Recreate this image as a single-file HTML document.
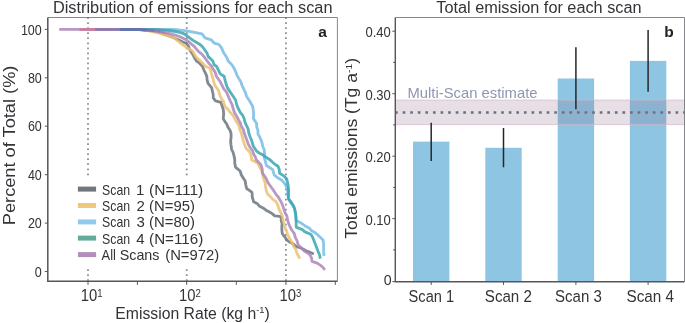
<!DOCTYPE html>
<html><head><meta charset="utf-8"><title>Emissions per scan</title>
<style>html,body{margin:0;padding:0;background:#fff}body{width:685px;height:323px;overflow:hidden}</style></head>
<body>
<svg width="685" height="323" viewBox="0 0 685 323" style="display:block;will-change:transform;font-family:'Liberation Sans',sans-serif">
<rect width="685" height="323" fill="#fff"/>
<line x1="88" y1="17.2" x2="88" y2="281.25" stroke="#84919d" stroke-width="1.75" stroke-dasharray="1.75 3.29"/>
<line x1="186.7" y1="17.2" x2="186.7" y2="281.25" stroke="#84919d" stroke-width="1.75" stroke-dasharray="1.75 3.29"/>
<line x1="285.9" y1="17.2" x2="285.9" y2="281.25" stroke="#84919d" stroke-width="1.75" stroke-dasharray="1.75 3.29"/>
<polyline points="95.0,29.4 140.0,29.6 150.0,30.6 160.0,32.4 172.5,37.2 178.7,40.1 183.0,42.1 186.3,43.3 188.0,45.5 188.7,46.5 189.5,49.4 192.0,53.2 194.2,57.2 196.3,60.8 199.6,63.2 202.4,66.2 203.8,69.8 205.5,73.2 206.8,76.4 207.1,79.9 207.9,83.2 211.7,87.9 212.4,91.2 213.2,94.5 213.3,97.9 215.5,100.8 220.9,102.3 222.0,105.8 223.2,109.3 223.7,113.9 223.2,118.6 224.8,121.4 226.7,124.0 227.9,127.1 229.9,130.0 231.0,133.3 231.1,137.2 230.6,141.0 231.0,144.9 231.6,149.3 233.1,152.3 233.9,155.5 234.7,159.3 234.8,163.3 235.5,167.1 240.1,171.0 241.2,174.7 243.2,177.9 245.1,180.8 245.8,184.7 246.6,188.5 249.4,190.4 252.0,192.4 252.3,197.1 253.6,201.7 257.0,203.4 259.6,206.3 263.0,207.9 266.0,210.2 269.1,211.8 272.1,213.6 274.8,215.9 278.1,216.2 281.3,216.9 281.2,220.3 282.1,223.6 281.8,226.9 281.9,230.3 282.3,233.6 284.7,236.8 286.9,240.1 290.0,242.3 293.4,244.0 296.2,246.6 299.9,247.6 303.4,249.3 306.7,251.2 310.3,252.4 313.8,254.0" fill="none" stroke="#6c767e" stroke-opacity="0.85" stroke-width="2.8" stroke-linejoin="round" stroke-linecap="butt"/>
<polyline points="79.6,29.4 138.0,29.6 145.0,30.2 150.0,31.2 158.0,32.8 166.2,35.3 174.2,38.0 179.8,42.5 184.7,46.1 188.0,48.6 192.6,51.0 195.7,56.4 200.1,60.8 202.9,63.4 205.5,66.2 210.2,68.5 211.3,72.8 212.5,77.0 213.7,81.2 214.8,85.5 216.9,88.1 218.7,91.0 219.9,95.4 221.8,99.5 223.2,100.8 224.1,104.0 225.5,107.0 228.0,109.4 230.1,112.2 232.5,114.7 234.5,118.1 236.3,121.6 238.7,124.8 239.6,128.7 241.0,132.5 242.3,136.6 243.2,140.8 244.8,145.4 246.4,148.8 249.3,151.4 251.0,154.7 251.7,160.1 254.8,161.6 257.9,163.2 259.2,166.4 261.0,169.4 262.3,172.7 262.9,176.1 263.8,179.5 265.2,183.0 265.5,186.7 266.3,190.4 267.5,193.9 270.3,196.6 272.9,199.4 276.0,201.7 277.8,205.2 278.9,209.0 280.7,212.5 282.3,215.9 283.1,220.0 284.1,224.0 285.1,228.0 286.6,231.1 287.7,234.5 289.1,237.7 291.0,240.6 292.5,243.8 293.8,246.8 295.9,249.5 296.7,252.8 298.3,255.7 299.9,258.6" fill="none" stroke="#ecc172" stroke-opacity="0.85" stroke-width="2.8" stroke-linejoin="round" stroke-linecap="butt"/>
<polyline points="119.5,29.4 150.0,29.4 165.0,29.3 174.2,29.5 186.3,30.8 189.5,31.3 202.0,33.9 205.0,37.8 211.2,39.8 214.3,43.2 219.0,44.5 222.0,48.6 223.1,51.7 224.8,54.5 226.7,57.2 228.0,60.8 230.9,63.7 233.4,67.0 235.3,70.8 236.8,74.8 238.8,78.6 240.8,81.7 242.0,85.2 243.5,88.6 245.4,92.4 246.6,96.4 249.5,100.8 252.6,106.2 253.3,110.3 253.6,114.4 253.4,118.6 256.5,123.2 256.7,126.9 257.9,130.4 258.0,134.1 259.7,136.9 261.0,140.0 262.1,143.1 262.7,146.3 264.1,149.3 264.6,153.2 264.1,157.0 265.3,161.2 266.4,165.5 269.5,167.5 272.6,169.4 274.2,174.8 277.8,177.8 281.9,180.2 285.5,184.7 287.6,189.3 287.7,194.0 288.4,198.6 290.1,202.1 292.7,205.1 294.6,208.6 295.2,212.6 295.8,216.5 296.1,220.5 301.6,223.3 305.2,226.0 309.2,228.0 311.6,230.8 315.0,232.6 317.8,235.0 320.5,237.5 323.1,240.1 323.6,244.0 323.6,247.9 323.7,251.9 324.0,255.8" fill="none" stroke="#74bce5" stroke-opacity="0.85" stroke-width="2.8" stroke-linejoin="round" stroke-linecap="butt"/>
<polyline points="119.5,29.4 150.0,29.4 158.0,29.6 170.0,30.6 178.2,32.0 183.0,33.3 186.3,35.3 192.3,39.9 200.4,44.8 202.9,47.3 205.0,50.2 207.0,53.1 208.1,56.4 210.5,58.6 212.8,61.0 214.3,64.9 216.4,66.2 218.4,70.0 220.2,73.9 224.1,76.3 225.2,80.6 226.4,84.8 227.5,87.9 229.3,90.6 231.1,93.3 233.4,96.8 235.7,100.2 236.4,103.3 237.3,106.4 238.7,109.3 240.3,112.5 242.7,115.3 244.1,118.6 245.0,122.1 246.4,125.4 248.0,128.6 248.8,133.0 250.3,137.2 251.7,140.8 253.3,146.2 256.4,150.8 259.1,152.9 262.1,154.4 264.9,156.3 267.5,158.2 270.3,160.0 272.6,162.4 275.2,164.5 278.0,166.3 279.3,169.7 279.6,173.3 283.4,175.6 286.6,178.7 288.1,184.9 288.5,188.3 288.6,191.7 288.5,195.2 288.4,198.6 290.9,201.7 293.0,205.0 294.6,208.6 295.5,212.7 296.0,216.8 296.1,221.0 296.2,227.1 299.2,228.4 302.4,229.6 304.9,231.9 308.0,233.1 311.0,234.5 312.8,237.6 314.1,240.9 315.4,244.2 316.6,247.5 318.0,251.2 319.5,254.8 320.3,258.6" fill="none" stroke="#38a5af" stroke-opacity="0.85" stroke-width="2.8" stroke-linejoin="round" stroke-linecap="butt"/>
<polyline points="59.2,29.4 140.0,29.5 147.0,30.0 154.0,30.8 162.0,32.0 170.2,33.7 178.2,36.0 186.3,39.8 194.2,46.3 196.5,49.2 198.9,51.9 201.9,54.1 204.5,57.4 207.1,60.8 209.2,63.6 211.6,66.2 213.3,69.3 215.3,72.6 216.4,76.3 218.3,79.0 220.2,81.8 221.8,84.8 223.6,88.6 226.3,91.8 228.0,95.6 230.2,100.8 232.2,104.9 233.3,109.3 234.7,113.1 236.9,116.5 238.7,120.1 240.4,123.0 241.4,126.3 243.2,129.2 244.1,132.5 245.6,136.7 247.1,140.8 248.4,144.4 250.3,147.7 252.5,150.8 253.6,154.0 255.3,156.9 256.4,160.1 258.8,162.3 261.0,164.8 262.2,169.0 262.6,173.3 266.2,178.5 267.6,181.8 269.5,184.9 272.2,188.5 274.2,191.4 276.0,194.3 278.3,197.0 280.0,200.0 281.7,203.1 283.0,206.3 284.0,209.6 285.1,212.9 286.9,215.9 287.5,219.4 288.4,222.8 289.7,226.1 291.7,230.0 294.3,233.6 295.3,237.4 297.1,240.9 298.1,244.7 301.3,248.0 304.5,251.2 307.4,252.9 310.1,254.9 311.5,258.0 312.0,261.4 316.4,262.8 320.3,265.1 322.8,267.3 325.0,269.8" fill="none" stroke="#ad86b9" stroke-opacity="0.85" stroke-width="2.8" stroke-linejoin="round" stroke-linecap="butt"/>
<line x1="79.6" y1="29.4" x2="95" y2="29.4" stroke="#c7809f" stroke-width="2.8"/>
<line x1="95" y1="29.4" x2="119.5" y2="29.4" stroke="#8d7bb0" stroke-width="2.8"/>
<polyline points="119.5,29.4 140,29.5 147,29.9" fill="none" stroke="#6274ad" stroke-width="3.0"/>
<polyline points="147,29.9 154,30.6" fill="none" stroke="#6274ad" stroke-opacity="0.7" stroke-width="3.0"/>
<polyline points="154,30.6 160,31.4" fill="none" stroke="#6274ad" stroke-opacity="0.4" stroke-width="2.8"/>
<polyline points="160,31.4 166,32.4" fill="none" stroke="#6274ad" stroke-opacity="0.2" stroke-width="2.8"/>
<path d="M47.8 17.5H337.4V281.25" fill="none" stroke="#67686d" stroke-width="0.8"/>
<path d="M47.8 17.5V281.25H337.4" fill="none" stroke="#55565c" stroke-width="1.5"/>
<line x1="44.8" y1="271.5" x2="47.8" y2="271.5" stroke="#55565c" stroke-width="1"/>
<text x="34.8" y="276.6" font-size="14.3" fill="#333338" textLength="7.0" lengthAdjust="spacingAndGlyphs">0</text>
<line x1="44.8" y1="223.1" x2="47.8" y2="223.1" stroke="#55565c" stroke-width="1"/>
<text x="27.9" y="228.2" font-size="14.3" fill="#333338" textLength="13.9" lengthAdjust="spacingAndGlyphs">20</text>
<line x1="44.8" y1="174.7" x2="47.8" y2="174.7" stroke="#55565c" stroke-width="1"/>
<text x="27.9" y="179.8" font-size="14.3" fill="#333338" textLength="13.9" lengthAdjust="spacingAndGlyphs">40</text>
<line x1="44.8" y1="126.2" x2="47.8" y2="126.2" stroke="#55565c" stroke-width="1"/>
<text x="27.9" y="131.3" font-size="14.3" fill="#333338" textLength="13.9" lengthAdjust="spacingAndGlyphs">60</text>
<line x1="44.8" y1="77.8" x2="47.8" y2="77.8" stroke="#55565c" stroke-width="1"/>
<text x="27.9" y="82.9" font-size="14.3" fill="#333338" textLength="13.9" lengthAdjust="spacingAndGlyphs">80</text>
<line x1="44.8" y1="29.4" x2="47.8" y2="29.4" stroke="#55565c" stroke-width="1"/>
<text x="20.9" y="34.5" font-size="14.3" fill="#333338" textLength="20.9" lengthAdjust="spacingAndGlyphs">100</text>
<line x1="88" y1="281.25" x2="88" y2="284.85" stroke="#55565c" stroke-width="1"/>
<line x1="137.4" y1="281.25" x2="137.4" y2="284.85" stroke="#55565c" stroke-width="1"/>
<line x1="186.7" y1="281.25" x2="186.7" y2="284.85" stroke="#55565c" stroke-width="1"/>
<line x1="236.3" y1="281.25" x2="236.3" y2="284.85" stroke="#55565c" stroke-width="1"/>
<line x1="285.9" y1="281.25" x2="285.9" y2="284.85" stroke="#55565c" stroke-width="1"/>
<line x1="335.3" y1="281.25" x2="335.3" y2="284.85" stroke="#55565c" stroke-width="1"/>
<text x="80.7" y="301.4" font-size="16" fill="#333338" textLength="21.8" lengthAdjust="spacingAndGlyphs">10<tspan dy="-4.9" font-size="10.3">1</tspan></text>
<text x="179.1" y="301.4" font-size="16" fill="#333338" textLength="21.8" lengthAdjust="spacingAndGlyphs">10<tspan dy="-4.9" font-size="10.3">2</tspan></text>
<text x="279.6" y="301.4" font-size="16" fill="#333338" textLength="21.8" lengthAdjust="spacingAndGlyphs">10<tspan dy="-4.9" font-size="10.3">3</tspan></text>
<text x="192.7" y="12.7" font-size="16" fill="#333338" text-anchor="middle" textLength="279.6" lengthAdjust="spacingAndGlyphs">Distribution of emissions for each scan</text>
<text x="115.3" y="318.5" font-size="16" fill="#333338" textLength="154.5" lengthAdjust="spacingAndGlyphs">Emission Rate (kg h<tspan dy="-5.6" font-size="9.5">-1</tspan><tspan dy="5.6">)</tspan></text>
<text transform="translate(14.5 225.2) rotate(-90)" font-size="16" fill="#333338" textLength="159.6" lengthAdjust="spacingAndGlyphs">Percent of Total (%)</text>
<text x="318.2" y="36.8" font-size="15.5" font-weight="bold" fill="#222">a</text>
<rect x="72" y="177" width="154" height="90" fill="#fff"/>
<line x1="77.9" y1="189.1" x2="96.1" y2="189.1" stroke="#70777c" stroke-width="5"/>
<text x="102" y="194.5" font-size="15" fill="#333338" textLength="28.1" lengthAdjust="spacingAndGlyphs">Scan</text>
<text x="135.9" y="194.5" font-size="15" fill="#333338">1</text>
<text x="149.1" y="194.5" font-size="15" fill="#333338" textLength="54.1" lengthAdjust="spacingAndGlyphs">(N=111)</text>
<line x1="77.9" y1="205.5" x2="96.1" y2="205.5" stroke="#efc77f" stroke-width="5"/>
<text x="102" y="210.9" font-size="15" fill="#333338" textLength="28.1" lengthAdjust="spacingAndGlyphs">Scan</text>
<text x="136.6" y="210.9" font-size="15" fill="#333338">2</text>
<text x="149.1" y="210.9" font-size="15" fill="#333338" textLength="45.9" lengthAdjust="spacingAndGlyphs">(N=95)</text>
<line x1="77.9" y1="221.9" x2="96.1" y2="221.9" stroke="#8fcbee" stroke-width="5"/>
<text x="102" y="227.3" font-size="15" fill="#333338" textLength="28.1" lengthAdjust="spacingAndGlyphs">Scan</text>
<text x="136.6" y="227.3" font-size="15" fill="#333338">3</text>
<text x="149.1" y="227.3" font-size="15" fill="#333338" textLength="45.9" lengthAdjust="spacingAndGlyphs">(N=80)</text>
<line x1="77.9" y1="238.1" x2="96.1" y2="238.1" stroke="#62ab98" stroke-width="5"/>
<text x="102" y="243.5" font-size="15" fill="#333338" textLength="28.1" lengthAdjust="spacingAndGlyphs">Scan</text>
<text x="136.2" y="243.5" font-size="15" fill="#333338">4</text>
<text x="149.1" y="243.5" font-size="15" fill="#333338" textLength="54.1" lengthAdjust="spacingAndGlyphs">(N=116)</text>
<line x1="77.9" y1="254.6" x2="96.1" y2="254.6" stroke="#b48fbd" stroke-width="5"/>
<text x="101.6" y="260.0" font-size="15" fill="#333338" textLength="14.3" lengthAdjust="spacingAndGlyphs">All</text>
<text x="119.7" y="260.0" font-size="15" fill="#333338" textLength="39.8" lengthAdjust="spacingAndGlyphs">Scans</text>
<text x="165.2" y="260.0" font-size="15" fill="#333338" textLength="54.1" lengthAdjust="spacingAndGlyphs">(N=972)</text>
<rect x="413.0" y="141.6" width="36.4" height="140.1" fill="#8ec5e3"/>
<rect x="485.3" y="147.8" width="36.4" height="133.9" fill="#8ec5e3"/>
<rect x="557.7" y="78.5" width="36.4" height="203.2" fill="#8ec5e3"/>
<rect x="629.9" y="60.9" width="36.4" height="220.8" fill="#8ec5e3"/>
<rect x="395.3" y="100.1" width="289.2" height="24.5" fill="#8c708c" fill-opacity="0.22"/>
<path d="M395.3 100.1H684.5M395.3 124.6H684.5" stroke="#d6b6c8" stroke-width="0.7" fill="none"/>
<line x1="395.05" y1="112.5" x2="684.5" y2="112.5" stroke="#6e7080" stroke-width="2.7" stroke-dasharray="2.7 4.88"/>
<line x1="431.2" y1="122.7" x2="431.2" y2="161.1" stroke="#26262a" stroke-width="1.5"/>
<line x1="503.5" y1="128.0" x2="503.5" y2="167.3" stroke="#26262a" stroke-width="1.5"/>
<line x1="575.9" y1="47.3" x2="575.9" y2="109.2" stroke="#26262a" stroke-width="1.5"/>
<line x1="648.1" y1="29.9" x2="648.1" y2="91.8" stroke="#26262a" stroke-width="1.5"/>
<text x="407.5" y="98" font-size="14.5" fill="#9095b1" textLength="130" lengthAdjust="spacingAndGlyphs">Multi-Scan estimate</text>
<path d="M395.3 17.5H684.5V281.7" fill="none" stroke="#67686d" stroke-width="0.8"/>
<path d="M395.3 17.5V281.7H684.5" fill="none" stroke="#55565c" stroke-width="1.4"/>
<line x1="392.3" y1="281.6" x2="395.3" y2="281.6" stroke="#55565c" stroke-width="1"/>
<text x="383.8" y="284.8" font-size="14.3" fill="#333338" textLength="7.9" lengthAdjust="spacingAndGlyphs">0</text>
<line x1="393.1" y1="249.9" x2="395.3" y2="249.9" stroke="#55565c" stroke-width="1"/>
<line x1="392.3" y1="218.6" x2="395.3" y2="218.6" stroke="#55565c" stroke-width="1"/>
<text x="365.5" y="224.7" font-size="14.3" fill="#333338" textLength="25.3" lengthAdjust="spacingAndGlyphs">0.10</text>
<line x1="393.1" y1="187.4" x2="395.3" y2="187.4" stroke="#55565c" stroke-width="1"/>
<line x1="392.3" y1="156.2" x2="395.3" y2="156.2" stroke="#55565c" stroke-width="1"/>
<text x="365.5" y="162.3" font-size="14.3" fill="#333338" textLength="25.3" lengthAdjust="spacingAndGlyphs">0.20</text>
<line x1="393.1" y1="124.9" x2="395.3" y2="124.9" stroke="#55565c" stroke-width="1"/>
<line x1="392.3" y1="93.7" x2="395.3" y2="93.7" stroke="#55565c" stroke-width="1"/>
<text x="365.5" y="99.8" font-size="14.3" fill="#333338" textLength="25.3" lengthAdjust="spacingAndGlyphs">0.30</text>
<line x1="393.1" y1="62.4" x2="395.3" y2="62.4" stroke="#55565c" stroke-width="1"/>
<line x1="392.3" y1="31.2" x2="395.3" y2="31.2" stroke="#55565c" stroke-width="1"/>
<text x="365.5" y="37.3" font-size="14.3" fill="#333338" textLength="25.3" lengthAdjust="spacingAndGlyphs">0.40</text>
<line x1="431.2" y1="281.7" x2="431.2" y2="284.9" stroke="#55565c" stroke-width="1"/>
<text x="408.6" y="302.3" font-size="16.3" fill="#333338" textLength="45.5" lengthAdjust="spacingAndGlyphs">Scan 1</text>
<line x1="503.5" y1="281.7" x2="503.5" y2="284.9" stroke="#55565c" stroke-width="1"/>
<text x="484.8" y="302.3" font-size="16.3" fill="#333338" textLength="47.1" lengthAdjust="spacingAndGlyphs">Scan 2</text>
<line x1="575.9" y1="281.7" x2="575.9" y2="284.9" stroke="#55565c" stroke-width="1"/>
<text x="555.1" y="302.3" font-size="16.3" fill="#333338" textLength="46.7" lengthAdjust="spacingAndGlyphs">Scan 3</text>
<line x1="648.1" y1="281.7" x2="648.1" y2="284.9" stroke="#55565c" stroke-width="1"/>
<text x="626.5" y="302.3" font-size="16.3" fill="#333338" textLength="47.5" lengthAdjust="spacingAndGlyphs">Scan 4</text>
<text x="538.9" y="12.7" font-size="16" fill="#333338" text-anchor="middle" textLength="205.2" lengthAdjust="spacingAndGlyphs">Total emission for each scan</text>
<text transform="translate(357.2 238.7) rotate(-90)" font-size="16" fill="#333338" textLength="180.8" lengthAdjust="spacingAndGlyphs">Total emissions (Tg a<tspan dy="-5.6" font-size="9.5">-1</tspan><tspan dy="5.6">)</tspan></text>
<text x="664.2" y="36.8" font-size="15.5" font-weight="bold" fill="#222">b</text>
</svg>
</body></html>
